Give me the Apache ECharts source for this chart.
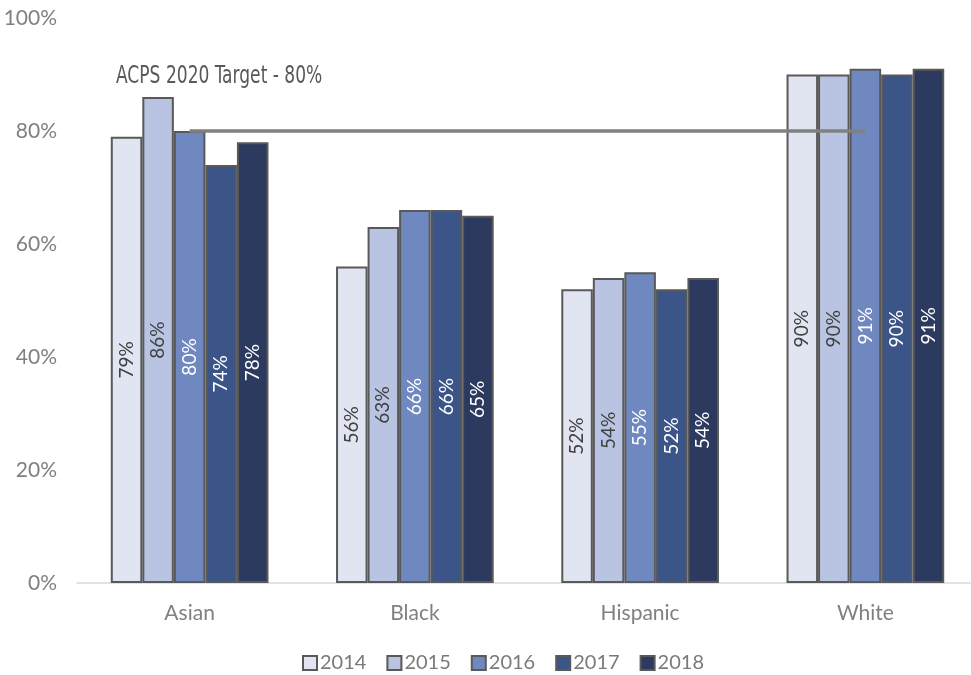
<!DOCTYPE html>
<html><head><meta charset="utf-8">
<script src="https://cdn.jsdelivr.net/npm/echarts@6/dist/echarts.min.js"></script>
<style>html,body{margin:0;padding:0;background:#fff}#c{width:971px;height:675px}</style>
</head><body><div id="c"></div>
<script>
const categories = ['Asian', 'Black', 'Hispanic', 'White'];
const years = ['2014', '2015', '2016', '2017', '2018'];
const v2014 = [79, 56, 52, 90];
const v2015 = [86, 63, 54, 90];
const v2016 = [80, 66, 55, 91];
const v2017 = [74, 66, 52, 90];
const v2018 = [78, 65, 54, 91];
const target = [80, 80, 80, 80];
const targetLabel = 'ACPS 2020 Target - 80%';
const yTicks = [0, 20, 40, 60, 80, 100];

const values = [v2014, v2015, v2016, v2017, v2018];
const colors = ['#e1e5f1', '#b8c4e1', '#7088c0', '#3c5589', '#2c3a5f'];
const labelColors = ['#404040', '#404040', '#ffffff', '#ffffff', '#ffffff'];

const chart = echarts.init(document.getElementById('c'));
const series = years.map((y, i) => ({
  name: y, type: 'bar', data: values[i],
  barGap: '0%', barCategoryGap: '30%',
  itemStyle: { color: colors[i], borderColor: '#595959', borderWidth: 2 },
  label: { show: true, position: 'inside', rotate: 90, formatter: '{c}%',
    color: labelColors[i], fontFamily: 'Lato', fontSize: 19 }
}));
series.push({
  name: 'target', type: 'line', data: target, symbol: 'none', z: 5,
  lineStyle: { color: '#808080', width: 3.5 }, silent: true
});
chart.setOption({
  animation: false,
  graphic: [{
    type: 'text', x: 116, y: 64, scaleY: 1.3, z: 10,
    style: { text: targetLabel, fill: '#595959', verticalAlign: 'top',
      font: '19px "DejaVu Sans Condensed", "Roboto", sans-serif' }
  }],
  grid: { left: 77, width: 901, top: 18, bottom: 92, containLabel: false, outerBoundsMode: 'none' },
  legend: { data: years, top: 648, left: 297, icon: 'rect', itemWidth: 14, itemHeight: 14, itemGap: 20,
    textStyle: { fontFamily: 'Lato', fontSize: 20, color: '#7a7a7a', padding: [0, 0, 0, -2] },
    itemStyle: { borderColor: '#595959', borderWidth: 2 } },
  xAxis: { type: 'category', data: categories,
    axisLine: { lineStyle: { color: '#d9d9d9', width: 1.5 } }, axisTick: { show: false },
    axisLabel: { fontFamily: 'Lato', fontSize: 21, color: '#808080', margin: 20 } },
  yAxis: { type: 'value', min: 0, max: 100, interval: 20,
    splitLine: { show: false }, axisLine: { show: false }, axisTick: { show: false },
    axisLabel: { fontFamily: 'Lato', fontSize: 21, color: '#808080', margin: 20,
      formatter: v => yTicks.includes(v) ? v + '%' : '' } },
  series: series
});
</script></body></html>
